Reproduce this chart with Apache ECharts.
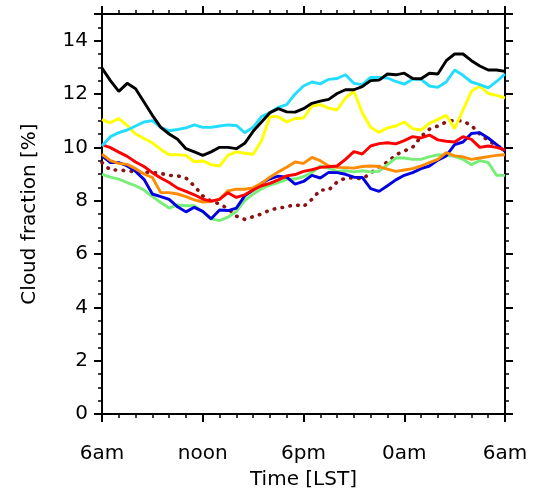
<!DOCTYPE html>
<html>
<head>
<meta charset="utf-8">
<script src="https://cdn.jsdelivr.net/npm/echarts@6/dist/echarts.min.js"></script>
<style>
html,body{margin:0;padding:0;background:#fff;}
#chart{width:536px;height:495px;}
</style>
</head>
<body>
<div id="chart"></div>
<script>
// Hours after 6am LST
var hours = [0,0.5,1,1.5,2,2.5,3,3.5,4,4.5,5,5.5,6,6.5,7,7.5,8,8.5,9,9.5,10,10.5,11,11.5,12,12.5,13,13.5,14,14.5,15,15.5,16,16.5,17,17.5,18,18.5,19,19.5,20,20.5,21,21.5,22,22.5,23,23.5,24];
var xTickLabels = ['6am','noon','6pm','0am','6am'];
var yTicks = [0,2,4,6,8,10,12,14];

var black  = [12.97,12.5,12.1,12.4,12.2,11.7,11.2,10.75,10.5,10.3,9.95,9.83,9.7,9.83,10.0,10.0,9.95,10.15,10.6,10.95,11.3,11.45,11.33,11.32,11.45,11.65,11.73,11.8,12.02,12.16,12.16,12.28,12.5,12.52,12.75,12.72,12.78,12.58,12.57,12.78,12.75,13.25,13.5,13.5,13.25,13.05,12.9,12.9,12.85];
var cyan   = [10.05,10.4,10.55,10.65,10.8,10.95,11.0,10.75,10.62,10.67,10.73,10.84,10.75,10.75,10.8,10.84,10.82,10.55,10.75,11.15,11.3,11.5,11.6,12.0,12.3,12.45,12.38,12.55,12.58,12.72,12.4,12.35,12.62,12.62,12.6,12.47,12.37,12.55,12.55,12.3,12.25,12.45,12.9,12.7,12.45,12.35,12.23,12.47,12.75];
var yellow = [11.04,10.92,11.08,10.82,10.5,10.33,10.17,9.92,9.72,9.72,9.7,9.46,9.49,9.35,9.3,9.7,9.83,9.78,9.74,10.25,11.15,11.15,10.95,11.08,11.1,11.54,11.6,11.47,11.4,11.85,12.1,11.3,10.75,10.56,10.73,10.8,10.95,10.7,10.65,10.9,11.05,11.2,10.7,11.4,12.1,12.3,12.02,11.95,11.85];
var red    = [10.1,9.99,9.82,9.66,9.45,9.28,9.05,8.85,8.68,8.47,8.35,8.22,8.06,7.98,8.05,8.3,8.12,8.22,8.4,8.56,8.65,8.78,8.93,8.98,9.1,9.16,9.25,9.27,9.3,9.55,9.84,9.75,10.05,10.14,10.17,10.13,10.25,10.4,10.35,10.46,10.28,10.23,10.2,10.4,10.3,10.0,10.05,10.0,9.9];
var orange = [9.74,9.5,9.4,9.36,9.2,9.0,8.87,8.3,8.3,8.25,8.15,8.03,7.95,7.97,8.05,8.37,8.43,8.43,8.48,8.65,8.88,9.08,9.25,9.45,9.4,9.62,9.5,9.3,9.25,9.24,9.22,9.28,9.3,9.28,9.18,9.1,9.15,9.2,9.3,9.43,9.55,9.8,9.68,9.64,9.55,9.6,9.65,9.7,9.72];
var blue   = [9.68,9.43,9.43,9.3,9.1,8.8,8.25,8.15,8.05,7.77,7.58,7.75,7.6,7.32,7.65,7.63,7.72,8.18,8.4,8.65,8.82,8.92,8.88,8.62,8.72,8.95,8.85,9.06,9.05,8.99,8.88,8.87,8.45,8.35,8.56,8.78,8.95,9.05,9.2,9.3,9.52,9.68,10.1,10.2,10.52,10.55,10.35,10.1,9.85];
var green  = [8.99,8.88,8.81,8.68,8.56,8.4,8.15,7.93,7.72,7.84,7.81,7.81,7.58,7.32,7.25,7.38,7.6,8.0,8.25,8.45,8.58,8.68,8.8,8.81,8.9,9.05,9.3,9.22,9.1,9.12,9.08,9.12,9.08,9.1,9.35,9.6,9.6,9.55,9.55,9.65,9.72,9.7,9.66,9.55,9.35,9.5,9.43,8.95,8.95];
var dotted = [9.43,9.15,9.15,9.12,9.08,9.06,9.06,9.02,8.95,8.93,8.85,8.55,8.18,7.98,7.88,7.7,7.42,7.3,7.4,7.5,7.65,7.72,7.77,7.85,7.78,8.05,8.4,8.4,8.7,8.85,8.85,8.82,9.03,9.28,9.45,9.72,9.86,10.0,10.4,10.68,10.8,10.95,11.02,10.98,10.82,10.5,10.25,10.07,9.9];

function pairs(ys){ return hours.map(function(h,i){ return [h, ys[i]]; }); }

var FONT = 'DejaVu Sans';
var axisLine = {show:true, onZero:false, lineStyle:{color:'#000', width:2}};
var tick = {show:true, inside:false, length:8, lineStyle:{color:'#000', width:2}};
function minor(n){ return {show:true, splitNumber:n, length:4, lineStyle:{color:'#000', width:1.5}}; }

function xAx(pos, showLabel){
  return {
    type:'value', min:0, max:24, interval:6, position:pos,
    axisLine:axisLine, axisTick:tick, minorTick:minor(6),
    splitLine:{show:false}, minorSplitLine:{show:false},
    axisLabel:{show:showLabel, margin:30, color:'#000', fontFamily:FONT, fontSize:20,
      formatter:function(v){ return xTickLabels[Math.round(v/6)]; }},
    name: showLabel ? 'Time [LST]' : '', nameLocation:'middle', nameGap:56,
    nameTextStyle:{color:'#000', fontFamily:FONT, fontSize:20}
  };
}
function yAx(pos, showLabel){
  return {
    type:'value', min:0, max:15, interval:2, position:pos,
    axisLine:axisLine, axisTick:tick, minorTick:minor(4),
    splitLine:{show:false}, minorSplitLine:{show:false},
    axisLabel:{show:showLabel, margin:14, color:'#000', fontFamily:FONT, fontSize:20,
      formatter:function(v){ return yTicks.indexOf(v) >= 0 ? String(v) : ''; }},
    name: showLabel ? 'Cloud fraction [%]' : '', nameLocation:'middle', nameGap:62,
    nameTextStyle:{color:'#000', fontFamily:FONT, fontSize:20}
  };
}

function line(name, data, color, extra){
  var ls = {color:color, width:2.9};
  if (extra) for (var k in extra) ls[k] = extra[k];
  return {name:name, type:'line', data:pairs(data), showSymbol:false, symbol:'none',
    lineStyle:ls, itemStyle:{color:color}, silent:true, z:2};
}

var chart = echarts.init(document.getElementById('chart'), null, {renderer:'canvas'});
chart.setOption({
  animation:false,
  backgroundColor:'#fff',
  grid:{left:102, right:31, top:14, bottom:79, containLabel:false},
  xAxis:[xAx('bottom', true), xAx('top', false)],
  yAxis:[yAx('left', true), yAx('right', false)],
  series:[
    line('dotted', dotted, '#8b1212', {type:[0.5,7.5], cap:'round', width:3.6}),
    line('green', green, '#77ee77'),
    line('blue', blue, '#0000e0'),
    line('orange', orange, '#ff8c00'),
    line('red', red, '#ff0000'),
    line('yellow', yellow, '#ffff00'),
    line('cyan', cyan, '#22ddff'),
    line('black', black, '#000000')
  ]
});
</script>
</body>
</html>
